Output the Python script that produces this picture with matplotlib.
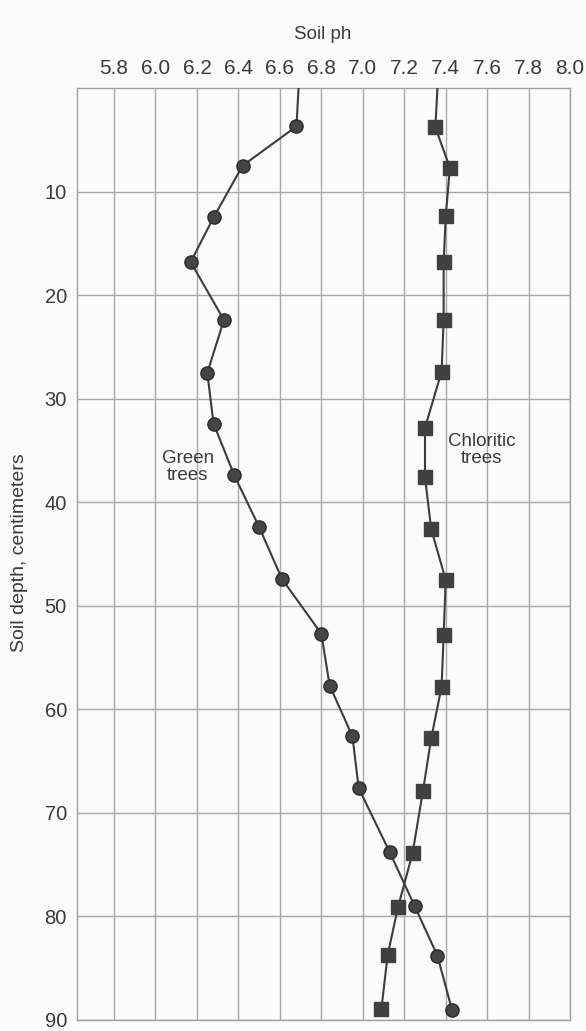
import matplotlib
matplotlib.use('Agg')
import matplotlib.pyplot as plt

plt.rcParams['font.family'] = ['Liberation Sans', 'DejaVu Sans']

# depth (cm) and soil pH
green_depth = [0, 3.7, 7.5, 12.5, 16.8, 22.4, 27.5, 32.4, 37.4, 42.4, 47.4,
               52.7, 57.7, 62.6, 67.6, 73.8, 79.0, 83.8, 89.0]
green_ph = [6.69, 6.68, 6.42, 6.28, 6.17, 6.33, 6.25, 6.28, 6.38, 6.50, 6.61,
            6.80, 6.84, 6.95, 6.98, 7.13, 7.25, 7.36, 7.43]

chlor_depth = [0, 3.8, 7.7, 12.4, 16.8, 22.4, 27.4, 32.8, 37.6, 42.6, 47.5,
               52.8, 57.8, 62.8, 67.9, 73.9, 79.1, 83.7, 88.9]
chlor_ph = [7.36, 7.35, 7.42, 7.40, 7.39, 7.39, 7.38, 7.30, 7.30, 7.33, 7.40,
            7.39, 7.38, 7.33, 7.29, 7.24, 7.17, 7.12, 7.09]

ph_ticks = [5.8, 6.0, 6.2, 6.4, 6.6, 6.8, 7.0, 7.2, 7.4, 7.6, 7.8, 8.0]
depth_ticks = [10, 20, 30, 40, 50, 60, 70, 80, 90]

fig = plt.figure(figsize=(5.86, 10.31), dpi=100)
fig.patch.set_facecolor('#fbfbfb')
ax = fig.add_axes([0.1309, 0.0107, 0.8420, 0.9039])
ax.set_facecolor('#fbfbfb')

line_col = '#3c3c3c'
ax.plot(green_ph, green_depth, color=line_col, lw=1.5, marker='o', ms=9.5,
        mfc='#454545', mec='#2a2a2a', mew=1.0, markevery=slice(1, None), zorder=3)
ax.plot(chlor_ph, chlor_depth, color=line_col, lw=1.5, marker='s', ms=10.5,
        mfc='#404040', mec='#404040', markevery=slice(1, None), zorder=3)

ax.text(6.156, 36.6, 'Green\ntrees', ha='center', va='center', fontsize=13.5,
        color='#3a3a3a', linespacing=1.0)
ax.text(7.572, 35.0, 'Chloritic\ntrees', ha='center', va='center', fontsize=13.5,
        color='#3a3a3a', linespacing=1.0)

ax.set_xlim(5.62, 8.0)
ax.set_ylim(90, 0)
ax.xaxis.tick_top()
ax.set_xticks(ph_ticks)
ax.set_xticklabels([f'{v:.1f}' for v in ph_ticks])
ax.set_yticks(depth_ticks)
ax.set_yticklabels([str(v) for v in depth_ticks])
ax.tick_params(axis='both', length=0, colors='#3a3a3a')
ax.tick_params(axis='x', labelsize=15, pad=7)
ax.tick_params(axis='y', labelsize=14.5, pad=7)

ax.grid(True, color='#a8a8a8', lw=1.0)
for s in ax.spines.values():
    s.set_color('#a0a0a0')
    s.set_linewidth(1.0)

fig.text(0.5503, 0.967, 'Soil ph', ha='center', va='center', fontsize=13.5,
         color='#3a3a3a')
fig.text(0.034, 0.464, 'Soil depth, centimeters', ha='center', va='center',
         rotation=90, fontsize=14, color='#3a3a3a')

plt.savefig('out.png', dpi=100, facecolor=fig.get_facecolor())
